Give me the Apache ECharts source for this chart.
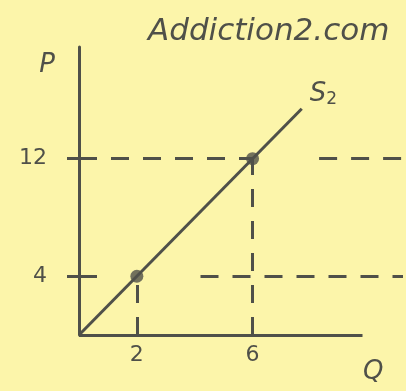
<!DOCTYPE html>
<html>
<head>
<meta charset="utf-8">
<script src="https://cdn.jsdelivr.net/npm/echarts@6/dist/echarts.min.js"></script>
<style>
  html, body { margin: 0; padding: 0; background: #fcf5aa; }
  #chart { width: 406px; height: 391px; }
</style>
</head>
<body>
<div id="chart"></div>
<script>
// Supply curve S2: price P rises with quantity Q (P = 2Q)
const supplyLine = [[0, 0], [7.7, 15.4]];
const quantities = [2, 6];
const prices = [4, 12];
const qTicks = [2, 6];
const pTicks = [4, 12];

const ink = '#4f5049';
const hand = "'DejaVu Sans', sans-serif";

const qAxisEnd = 9.8;   // where the drawn Q axis stops
const qView = 11.2;     // plot area runs a little past it for the guides

const points = quantities.map((q, i) => [q, prices[i]]);

// dashed guides: horizontal ones broken around the gaps, vertical ones down to the Q axis
const guides = [
  [{ coord: [0, prices[1]] }, { coord: [quantities[1], prices[1]] }],
  [{ coord: [8.3, prices[1]] }, { coord: [qView, prices[1]] }],
  [{ coord: [0, prices[0]] }, { coord: [0.8, prices[0]] }],
  [{ coord: [4.2, prices[0]] }, { coord: [qView, prices[0]] }],
  ...points.map(pt => [{ coord: [pt[0], 0] }, { coord: pt }])
];

const chart = echarts.init(document.getElementById('chart'));
chart.setOption({
  backgroundColor: '#fcf5aa',
  animation: false,
  title: {
    text: 'Addiction2.com',
    left: 143, top: 11,
    textStyle: { color: ink, fontFamily: hand, fontStyle: 'italic', fontWeight: 'normal', fontSize: 31 }
  },
  grid: { left: 79, top: 47, width: 324, height: 288 },
  xAxis: {
    type: 'value', min: 0, max: qView,
    name: 'Q', nameLocation: 'end', nameGap: -40,
    nameTextStyle: { color: ink, fontFamily: hand, fontStyle: 'italic', fontSize: 26, verticalAlign: 'top', padding: [24, 0, 0, 0] },
    axisLine: { show: false },
    axisTick: { show: false },
    splitLine: { show: false },
    axisLabel: { customValues: qTicks, color: ink, fontFamily: hand, fontSize: 22, margin: 9 }
  },
  yAxis: {
    type: 'value', min: 0, max: 19.6,
    name: 'P', nameLocation: 'end', nameGap: -18,
    nameTextStyle: { color: ink, fontFamily: hand, fontStyle: 'italic', fontSize: 26, align: 'right', verticalAlign: 'middle', padding: [0, 24, 0, 0] },
    axisLine: { lineStyle: { color: ink, width: 3 } },
    axisTick: { show: true, customValues: pTicks, length: 12, lineStyle: { color: ink, width: 3 } },
    splitLine: { show: false },
    axisLabel: { customValues: pTicks, color: ink, fontFamily: hand, fontSize: 22, margin: 32 }
  },
  series: [
    {
      type: 'line',
      data: supplyLine,
      symbol: 'none',
      lineStyle: { color: ink, width: 3 },
      endLabel: {
        show: true,
        formatter: '{s|S}{sub|2}',
        offset: [0, -14],
        rich: {
          s: { color: ink, fontFamily: hand, fontStyle: 'italic', fontSize: 26 },
          sub: { color: ink, fontFamily: hand, fontSize: 17, padding: [10, 0, 0, 0] }
        }
      },
      // the Q axis itself, drawn only up to its end
      markLine: {
        silent: true,
        symbol: 'none',
        label: { show: false },
        lineStyle: { color: ink, width: 3, type: 'solid' },
        data: [[{ coord: [0, 0] }, { coord: [qAxisEnd, 0] }]]
      }
    },
    {
      type: 'scatter',
      data: points,
      symbolSize: 13,
      itemStyle: { color: ink },
      markLine: {
        silent: true,
        symbol: 'none',
        label: { show: false },
        lineStyle: { color: ink, width: 3, type: [18, 14] },
        data: guides
      }
    }
  ]
});
</script>
</body>
</html>
